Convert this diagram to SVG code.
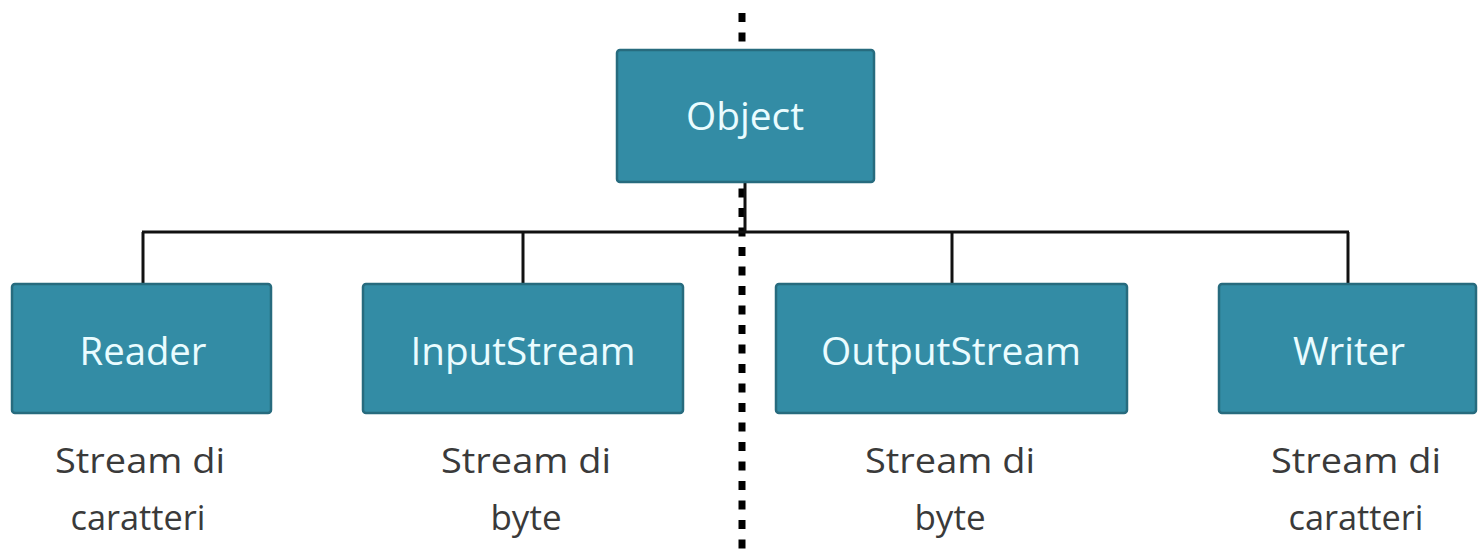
<svg xmlns="http://www.w3.org/2000/svg" width="1478" height="554" viewBox="0 0 1478 554">
  <style>
    .box { fill: #338ca5; stroke: #276b7e; stroke-width: 2.5; }
    .boxlabel { font-family: "Open Sans", "Liberation Sans", Arial, sans-serif; font-size: 38px; fill: #eafcff; text-anchor: middle; }
    .note { font-family: "Open Sans", "Liberation Sans", Arial, sans-serif; font-size: 35px; fill: #3a3a3a; text-anchor: middle; }
    .wire { fill: none; stroke: #111; stroke-width: 3; }
    .divider { fill: none; stroke: #000; stroke-width: 7; stroke-dasharray: 9 10.5; }
  </style>
  <rect width="1478" height="554" fill="#ffffff"/>

  <!-- vertical divider between input and output sides -->
  <line class="divider" x1="742" y1="13" x2="742" y2="554"/>

  <!-- tree connectors -->
  <g id="connectors">
    <line class="wire" x1="745" y1="182" x2="745" y2="232"/>
    <line class="wire" x1="142" y1="232" x2="1349" y2="232"/>
    <line class="wire" x1="143" y1="232" x2="143" y2="284"/>
    <line class="wire" x1="523" y1="232" x2="523" y2="284"/>
    <line class="wire" x1="952" y1="232" x2="952" y2="284"/>
    <line class="wire" x1="1348" y1="232" x2="1348" y2="284"/>
  </g>

  <g id="object">
    <rect class="box" x="617" y="50" width="257" height="132" rx="3"/>
    <text class="boxlabel" x="745" y="130" textLength="118" lengthAdjust="spacingAndGlyphs">Object</text>
  </g>

  <g id="reader">
    <rect class="box" x="12" y="284" width="259" height="129" rx="3"/>
    <text class="boxlabel" x="143" y="365" textLength="127" lengthAdjust="spacingAndGlyphs">Reader</text>
  </g>

  <g id="inputstream">
    <rect class="box" x="363" y="284" width="320" height="129" rx="3"/>
    <text class="boxlabel" x="523" y="365" textLength="225" lengthAdjust="spacingAndGlyphs">InputStream</text>
  </g>

  <g id="outputstream">
    <rect class="box" x="776" y="284" width="351" height="129" rx="3"/>
    <text class="boxlabel" x="951" y="365" textLength="260" lengthAdjust="spacingAndGlyphs">OutputStream</text>
  </g>

  <g id="writer">
    <rect class="box" x="1219" y="284" width="257" height="129" rx="3"/>
    <text class="boxlabel" x="1349" y="365" textLength="112" lengthAdjust="spacingAndGlyphs">Writer</text>
  </g>

  <!-- stream type notes under each class -->
  <g id="notes">
    <text class="note" x="140" y="473" textLength="170" lengthAdjust="spacingAndGlyphs">Stream di</text>
    <text class="note" x="138" y="530" textLength="135" lengthAdjust="spacingAndGlyphs">caratteri</text>
    <text class="note" x="526" y="473" textLength="170" lengthAdjust="spacingAndGlyphs">Stream di</text>
    <text class="note" x="526" y="530">byte</text>
    <text class="note" x="950" y="473" textLength="170" lengthAdjust="spacingAndGlyphs">Stream di</text>
    <text class="note" x="950" y="530">byte</text>
    <text class="note" x="1356" y="473" textLength="170" lengthAdjust="spacingAndGlyphs">Stream di</text>
    <text class="note" x="1356" y="530" textLength="135" lengthAdjust="spacingAndGlyphs">caratteri</text>
  </g>
</svg>
